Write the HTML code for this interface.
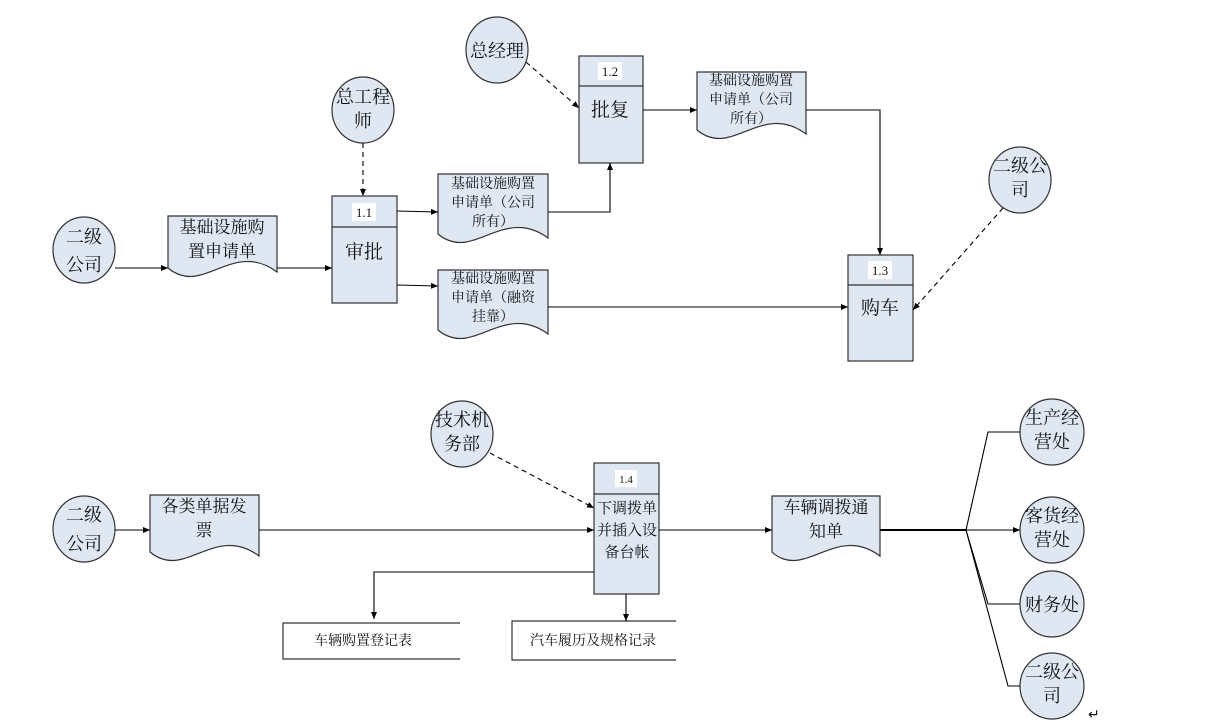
<!DOCTYPE html>
<html><head><meta charset="utf-8"><style>
html,body{margin:0;padding:0;background:#fff;width:1206px;height:727px;overflow:hidden}
text{font-family:"Liberation Serif","Noto Serif CJK SC","Noto Sans CJK SC",serif;fill:#111}
</style></head><body>
<svg width="1206" height="727" viewBox="0 0 1206 727" xmlns="http://www.w3.org/2000/svg">
<defs>
<marker id="a" markerWidth="8" markerHeight="8" refX="7" refY="4" orient="auto" markerUnits="userSpaceOnUse"><path d="M0,1 L7,4 L0,7 z" fill="#000"/></marker>
</defs>
<g fill="#dfe7f3" stroke="#333" stroke-width="1.2">
<!-- circles -->
<ellipse cx="84" cy="250" rx="31" ry="33"/>
<ellipse cx="363" cy="110" rx="31" ry="33"/>
<ellipse cx="497" cy="50" rx="31" ry="33"/>
<ellipse cx="1020" cy="180" rx="31" ry="33"/>
<ellipse cx="84" cy="529" rx="31" ry="33"/>
<ellipse cx="462" cy="434" rx="31" ry="33"/>
<ellipse cx="1052" cy="432" rx="32" ry="33"/>
<ellipse cx="1052" cy="530" rx="32" ry="33"/>
<ellipse cx="1052" cy="604" rx="32" ry="33"/>
<ellipse cx="1052" cy="686" rx="32" ry="33"/>
<!-- documents -->
<path d="M168,216 H277 V272 C245,248 220,272 196,276 C185,278 175,274 168,268 Z"/>
<path d="M438,174 H548 V238 C516,214 490,238 466,242 C455,244 445,240 438,234 Z"/>
<path d="M438,270 H548 V334 C516,310 490,334 466,338 C455,340 445,336 438,330 Z"/>
<path d="M697,72 H806 V134 C774,110 749,134 725,138 C714,140 704,136 697,130 Z"/>
<path d="M150,495 H259 V556 C227,532 202,556 178,560 C167,562 157,558 150,552 Z"/>
<path d="M772,496 H880 V556 C848,532 823,556 799,560 C788,562 778,558 772,552 Z"/>
<!-- process boxes -->
<rect x="332" y="196" width="65" height="107"/>
<rect x="579" y="56" width="64" height="107"/>
<rect x="848" y="255" width="65" height="106"/>
<rect x="594" y="463" width="65" height="131"/>
</g>
<g stroke="#333" stroke-width="1.2" fill="none">
<line x1="332" y1="227" x2="397" y2="227"/>
<line x1="579" y1="86" x2="643" y2="86"/>
<line x1="848" y1="285" x2="913" y2="285"/>
<line x1="594" y1="494" x2="659" y2="494"/>
<!-- records -->
<path d="M460,623 H283 V659 H460"/>
<path d="M676,621 H512 V660 H676"/>
</g>
<g stroke="#000" stroke-width="1.1" fill="none" marker-end="url(#a)">
<line x1="115" y1="268" x2="168" y2="268"/>
<line x1="277" y1="268" x2="332" y2="268"/>
<line x1="397" y1="211" x2="438" y2="212"/>
<line x1="397" y1="285" x2="438" y2="286"/>
<path d="M548,212 H610 V163"/>
<line x1="643" y1="110" x2="697" y2="110"/>
<path d="M806,110 H880 V255"/>
<line x1="548" y1="307" x2="848" y2="307"/>
<line x1="363" y1="143" x2="363" y2="196" stroke-dasharray="5,4"/>
<line x1="526" y1="62" x2="579" y2="108" stroke-dasharray="5,4"/>
<line x1="1003" y1="208" x2="913" y2="310" stroke-dasharray="5,4"/>
<line x1="115" y1="530" x2="150" y2="530"/>
<line x1="259" y1="530" x2="594" y2="530"/>
<line x1="490" y1="453" x2="594" y2="508" stroke-dasharray="5,4"/>
<line x1="659" y1="530" x2="772" y2="530"/>
<path d="M594,572 H374 V619"/>
<line x1="626" y1="594" x2="626" y2="621"/>
<line x1="966" y1="530" x2="1020" y2="530"/>
</g>
<g stroke="#000" stroke-width="1.1" fill="none">
<line x1="880" y1="530" x2="966" y2="530" stroke-width="2"/>
<path d="M966,530 L988,432 H1020"/>
<path d="M966,530 L988,604 H1020"/>
<path d="M966,530 L1008,686 H1020"/>
</g>
<!-- white label backgrounds -->
<rect x="352" y="203" width="24" height="18" fill="#fff"/>
<rect x="598" y="62" width="24" height="18" fill="#fff"/>
<rect x="868" y="261" width="24" height="18" fill="#fff"/>
<rect x="615" y="470" width="22" height="17" fill="#fff"/>
<g font-size="13" text-anchor="middle">
<text x="364" y="217">1.1</text>
<text x="610" y="76">1.2</text>
<text x="880" y="275">1.3</text>
<text x="626" y="483" font-size="11">1.4</text>
</g>
<g font-size="18" text-anchor="middle">
<text x="84" y="243">二级</text><text x="84" y="271">公司</text>
<text x="363" y="103">总工程</text><text x="363" y="127">师</text>
<text x="497" y="57">总经理</text>
<text x="1020" y="172">二级公</text><text x="1020" y="196">司</text>
<text x="84" y="521">二级</text><text x="84" y="550">公司</text>
<text x="462" y="426">技术机</text><text x="462" y="450">务部</text>
<text x="1052" y="424">生产经</text><text x="1052" y="448">营处</text>
<text x="1052" y="522">客货经</text><text x="1052" y="546">营处</text>
<text x="1052" y="611">财务处</text>
<text x="1052" y="678">二级公</text><text x="1052" y="702">司</text>
<text x="364" y="258" font-size="19">审批</text>
<text x="610" y="116" font-size="19">批复</text>
<text x="880" y="314" font-size="19">购车</text>
<text x="222" y="233" font-size="17">基础设施购</text><text x="222" y="257" font-size="17">置申请单</text>
<text x="204" y="512" font-size="17">各类单据发</text><text x="204" y="536" font-size="17">票</text>
<text x="826" y="513" font-size="17">车辆调拨通</text><text x="826" y="537" font-size="17">知单</text>
</g>
<g font-size="14" text-anchor="middle">
<text x="493" y="188">基础设施购置</text><text x="493" y="207">申请单（公司</text><text x="493" y="226">所有）</text>
<text x="493" y="283">基础设施购置</text><text x="493" y="302">申请单（融资</text><text x="493" y="321">挂靠）</text>
<text x="751" y="85">基础设施购置</text><text x="751" y="104">申请单（公司</text><text x="751" y="123">所有）</text>
<text x="627" y="513" font-size="15">下调拨单</text><text x="627" y="535" font-size="15">并插入设</text><text x="627" y="557" font-size="15">备台帐</text>
<text x="363" y="645">车辆购置登记表</text>
<text x="593" y="645">汽车履历及规格记录</text>
</g>
<text x="1088" y="719" font-size="14" fill="#999">↵</text>
</svg>
</body></html>
